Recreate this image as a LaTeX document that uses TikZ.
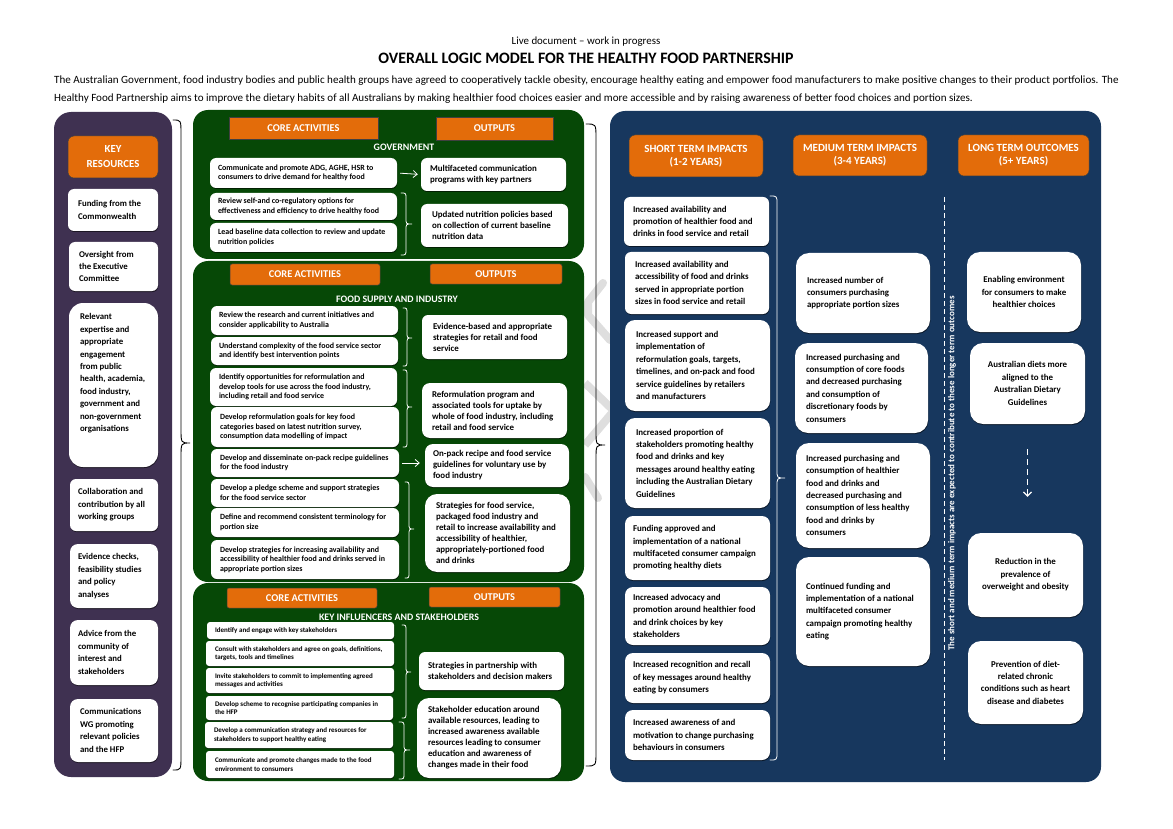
\documentclass[tikz,border=0pt]{standalone}
\usepackage{fontspec}
\setmainfont{Carlito}
\usetikzlibrary{shadows,arrows.meta}
\definecolor{purp}{HTML}{3F3151}
\definecolor{grn}{HTML}{064806}
\definecolor{blu}{HTML}{17375E}
\definecolor{org}{HTML}{E36C0A}
\definecolor{wm}{HTML}{DEDEDE}
\tikzset{
  x=1pt,y=-1pt,
  fs/.style 2 args={font=\bfseries\fontsize{#1}{#2}\selectfont},
  bshadow/.style={drop shadow={shadow xshift=.4pt,shadow yshift=-1pt,fill=black,opacity=.55}},
  wbox/.style={fill=white,rounded corners=6pt,inner sep=0pt,align=flush left,text=black,bshadow},
  wl/.style={wbox,fs={8.9}{12.4}},
  wg/.style={wbox,fs={7.95}{9.6}},
  wk/.style={wbox,fs={7}{8.5}},
  wo/.style={wbox,fs={8.9}{11}},
  wc/.style={align=flush center},
  orangebox/.style={fill=org,draw=black!75,line width=.5pt,rounded corners=2pt,inner sep=0pt,text=white,align=flush center,fs={10.4}{12}},
  bighead/.style={orangebox,rounded corners=6pt,fs={11}{13}},
  panel/.style={rounded corners=15pt},
  sechead/.style={text=white,fs={9.9}{11},inner sep=0pt},
  wbrace/.style={white,line width=.8pt,line cap=round},
  bbrace/.style={black,line width=.9pt,line cap=round},
}
\newcommand\bx[8][]{%
  \pgfmathsetmacro\bw{#5-#3}\pgfmathsetmacro\bh{#6-#4}%
  \pgfmathsetmacro\cxx{(#3+#5)/2}\pgfmathsetmacro\cyy{(#4+#6)/2}%
  \node[minimum width=\bw pt,minimum height=\bh pt,text width=\bw pt,#1] (#2) at (\cxx,\cyy) {\advance\leftskip #7pt\relax #8\par};%
}
% curly brace: style, x start, x spine, x tip, y top, y tip, y bottom, radius
\newcommand\cbr[8]{%
  \pgfmathsetmacro\ya{#5+#8}\pgfmathsetmacro\yb{#6-#8}\pgfmathsetmacro\yc{#6+#8}\pgfmathsetmacro\yd{#7-#8}%
  \draw[#1] (#2,#5) .. controls (#3,#5) and (#3,#5) .. (#3,\ya) -- (#3,\yb)
    .. controls (#3,#6) and (#3,#6) .. (#4,#6) .. controls (#3,#6) and (#3,#6) .. (#3,\yc) -- (#3,\yd)
    .. controls (#3,#7) and (#3,#7) .. (#2,#7);%
}
\begin{document}
\begin{tikzpicture}
\useasboundingbox (0,0) rectangle (1173,829);
\fill[white] (0,0) rectangle (1173,829);
% watermark strokes
\draw[wm,line width=8pt,line cap=round,line join=round] (603,283) -- (588,302) -- (588,315) -- (610,340);
\draw[wm,line width=8pt] (585,383) -- (612,409);
\draw[wm,line width=8pt] (612,413) -- (585,445);
\draw[wm,line width=8pt,line cap=round] (585,477) -- (598,498);
% header text
\node[inner sep=0pt,font=\fontsize{10.9}{12}\selectfont] (live) at (586,42) {Live document – work in progress};
\node[inner sep=0pt,font=\bfseries\fontsize{15.9}{17}\selectfont] (title) at (586,58) {OVERALL LOGIC MODEL FOR THE HEALTHY FOOD PARTNERSHIP};
\node[inner sep=0pt,anchor=west,font=\fontsize{11.08}{12}\selectfont] (para1) at (54,81) {The Australian Government, food industry bodies and public health groups have agreed to cooperatively tackle obesity, encourage healthy eating and empower food manufacturers to make positive changes to their product portfolios. The};
\node[inner sep=0pt,anchor=west,font=\fontsize{11.08}{12}\selectfont] (para2) at (54,99) {Healthy Food Partnership aims to improve the dietary habits of all Australians by making healthier food choices easier and more accessible and by raising awareness of better food choices and portion sizes.};
% panels
\fill[purp,panel,rounded corners=17pt] (54,112) rectangle (172,777);
\fill[grn,panel] (193,110) rectangle (584,259);
\fill[grn,panel] (193,261) rectangle (584,582);
\fill[grn,panel] (193,583) rectangle (584,781);
\fill[blu,panel] (610,111) rectangle (1101,782);
% key resources
\bx[orangebox,rounded corners=6pt,fs={10.8}{15}]{kr}{68}{136}{158}{178}{0}{KEY\\RESOURCES}
\bx[wl,fs={8.8}{12.2}]{k1}{68}{189}{158}{231}{10}{Funding from the\\Commonwealth}
\bx[wl,fs={8.8}{12.4}]{k2}{69}{242}{158}{291}{10}{Oversight from\\the Executive\\Committee}
\bx[wl,fs={8.8}{12.4},rounded corners=14pt]{k3}{69}{303}{158}{467}{11}{Relevant\\expertise and\\appropriate\\engagement\\from public\\health, academia,\\food industry,\\government and\\non-government\\organisations\\\mbox{}\\\mbox{}}
\bx[wl,fs={8.8}{12.6}]{k4}{70}{479}{158}{531}{8}{Collaboration and\\contribution by all\\working groups}
\bx[wl,fs={8.8}{12.6},rounded corners=8pt]{k5}{70}{544}{158}{608}{8}{Evidence checks,\\feasibility studies\\and policy\\analyses}
\bx[wl,fs={8.8}{12.6},rounded corners=8pt]{k6}{70}{620}{158}{685}{8}{Advice from the\\community of\\interest and\\stakeholders}
\bx[wl,fs={8.8}{12.6},rounded corners=8pt]{k7}{70}{699}{158}{762}{10}{Communications\\WG promoting\\relevant policies\\and the HFP}
\cbr{bbrace}{173}{181}{190}{120}{443}{770}{14}
% government
\bx[orangebox,rounded corners=0pt]{g1c}{229}{117}{378}{139}{0}{CORE ACTIVITIES}
\bx[orangebox,rounded corners=0pt]{g1o}{436}{117}{553}{140}{0}{OUTPUTS}
\node[sechead] (g1h) at (404,147) {GOVERNMENT};
\bx[wg]{g1a}{210}{158}{397}{188}{8}{Communicate and promote ADG, AGHE, HSR to\\consumers to drive demand for healthy food}
\bx[wg]{g1b}{210}{193}{397}{220}{8}{Review self-and co-regulatory options for\\effectiveness and efficiency to drive healthy food}
\bx[wg]{g1d}{210}{223}{397}{252}{8}{Lead baseline data collection to review and update\\nutrition policies}
\bx[wo]{g1p}{421}{158}{566}{191}{9}{Multifaceted communication\\programs with key partners}
\bx[wo]{g1q}{421}{204}{568}{247}{11}{Updated nutrition policies based\\on collection of current baseline\\nutrition data}
\draw[white,line width=.8pt,-{Straight Barb[length=4pt,width=7pt]},shorten <=3pt,shorten >=3pt] (g1a.east) -- (g1p.west);
\cbr{wbrace}{401}{406}{412}{193}{224}{255}{6}
% food supply
\bx[orangebox]{g2c}{230}{264}{380}{285}{0}{CORE ACTIVITIES}
\bx[orangebox]{g2o}{430}{264}{562}{284}{0}{OUTPUTS}
\node[sechead] (g2h) at (397,299) {FOOD SUPPLY AND INDUSTRY};
\bx[wg]{f1}{211}{306}{398}{335}{8}{Review the research and current initiatives and\\consider applicability to Australia}
\bx[wg]{f2}{211}{337}{398}{365}{8}{Understand complexity of the food service sector\\and identify best intervention points}
\bx[wg]{f3}{210}{368}{397}{406}{9}{Identify opportunities for reformulation and\\develop tools for use across the food industry,\\including retail and food service}
\bx[wg]{f4}{211}{407}{399}{447}{9}{Develop reformulation goals for key food\\categories based on latest nutrition survey,\\consumption data modelling of impact}
\bx[wg]{f5}{211}{449}{399}{477}{9}{Develop and disseminate on-pack recipe guidelines\\for the food industry}
\bx[wg]{f6}{211}{479}{399}{507}{9}{Develop a pledge scheme and support strategies\\for the food service sector}
\bx[wg]{f7}{211}{508}{399}{537}{9}{Define and recommend consistent terminology for\\portion size}
\bx[wg]{f8}{211}{540}{399}{579}{9}{Develop strategies for increasing availability and\\accessibility of healthier food and drinks served in\\appropriate portion sizes}
\bx[wo]{fa}{422}{315}{567}{359}{11}{Evidence-based and appropriate\\strategies for retail and food\\service}
\bx[wo,rounded corners=8pt]{fb}{422}{383}{567}{438}{10}{Reformulation program and\\associated tools for uptake by\\whole of food industry, including\\retail and food service}
\bx[wo,rounded corners=8pt]{fc}{425}{444}{569}{487}{8}{On-pack recipe and food service\\guidelines for voluntary use by\\food industry}
\bx[wo,rounded corners=12pt]{fd}{425}{494}{570}{572}{11}{Strategies for food service,\\packaged food industry and\\retail to increase availability and\\accessibility of healthier,\\appropriately-portioned food\\and drinks}
\draw[white,line width=.8pt,-{Straight Barb[length=4pt,width=7pt]},shorten <=3pt,shorten >=5pt] (f5.east) -- (f5.east -| fc.west);
\cbr{wbrace}{403}{407}{412}{308}{338}{366}{6}
\cbr{wbrace}{403}{407}{412}{370}{407}{447}{6}
\cbr{wbrace}{405}{409}{414}{482}{529}{578}{6}
% stakeholders
\bx[orangebox]{g3c}{227}{588}{377}{608}{0}{CORE ACTIVITIES}
\bx[orangebox]{g3o}{429}{587}{560}{607}{0}{OUTPUTS}
\node[sechead] (g3h) at (399,617) {KEY INFLUENCERS AND STAKEHOLDERS};
\bx[wk,rounded corners=3pt]{s1}{207}{622}{394}{639}{8}{Identify and engage with key stakeholders}
\bx[wk,rounded corners=3pt]{s2}{206}{641}{394}{666}{9}{Consult with stakeholders and agree on goals, definitions,\\targets, tools and timelines}
\bx[wk,rounded corners=3pt]{s3}{206}{668}{394}{693}{9}{Invite stakeholders to commit to implementing agreed\\messages and activities}
\bx[wk,rounded corners=3pt]{s4}{206}{696}{393}{720}{9}{Develop scheme to recognise participating companies in\\the HFP}
\bx[wk,rounded corners=3pt]{s5}{205}{722}{393}{748}{9}{Develop a communication strategy and resources for\\stakeholders to support healthy eating}
\bx[wk,rounded corners=3pt]{s6}{206}{751}{394}{778}{9}{Communicate and promote changes made to the food\\environment to consumers}
\bx[wo]{sa}{419}{652}{564}{690}{9}{Strategies in partnership with\\stakeholders and decision makers}
\bx[wo,rounded corners=12pt]{sb}{417}{698}{561}{778}{11}{Stakeholder education around\\available resources, leading to\\increased awareness available\\resources leading to consumer\\education and awareness of\\changes made in their food}
\cbr{wbrace}{402}{406}{411}{625}{672}{718}{6}
\cbr{wbrace}{399}{404}{410}{722}{750}{779}{6}
\cbr{bbrace}{586}{596}{605}{124}{445}{766}{14}
% impacts headers
\bx[bighead]{h1}{629}{135}{763}{177}{0}{SHORT TERM IMPACTS\\(1-2 YEARS)}
\bx[bighead]{h2}{793}{135}{927}{176}{0}{MEDIUM TERM IMPACTS\\(3-4 YEARS)}
\bx[bighead]{h3}{958}{135}{1089}{176}{0}{LONG TERM OUTCOMES\\(5+ YEARS)}
% short
\bx[wl]{i1}{624}{197}{769}{246}{9}{Increased availability and\\promotion of healthier food and\\drinks in food service and retail}
\bx[wl]{i2}{625}{252}{769}{314}{10}{Increased availability and\\accessibility of food and drinks\\served in appropriate portion\\sizes in food service and retail}
\bx[wl,rounded corners=10pt]{i3}{625}{320}{770}{411}{11}{Increased support and\\implementation of\\reformulation goals, targets,\\timelines, and on-pack and food\\service guidelines by retailers\\and manufacturers}
\bx[wl,rounded corners=10pt]{i4}{625}{418}{770}{508}{11}{Increased proportion of\\stakeholders promoting healthy\\food and drinks and key\\messages around healthy eating\\including the Australian Dietary\\Guidelines}
\bx[wl,rounded corners=8pt]{i5}{625}{516}{770}{580}{8}{Funding approved and\\implementation of a national\\multifaceted consumer campaign\\promoting healthy diets}
\bx[wl,rounded corners=8pt]{i6}{625}{587}{770}{645}{8}{Increased advocacy and\\promotion around healthier food\\and drink choices by key\\stakeholders}
\bx[wl,rounded corners=8pt]{i7}{625}{653}{770}{703}{8}{Increased recognition and recall\\of key messages around healthy\\eating by consumers}
\bx[wl,rounded corners=8pt]{i8}{625}{710}{770}{760}{8}{Increased awareness of and\\motivation to change purchasing\\behaviours in consumers}
\cbr{wbrace}{770}{777}{785}{196}{478}{760}{8}
% medium
\bx[wl,rounded corners=13pt]{m1}{796}{253}{930}{333}{11}{Increased number of\\consumers purchasing\\appropriate portion sizes}
\bx[wl,rounded corners=13pt]{m2}{795}{343}{928}{433}{11}{Increased purchasing and\\consumption of core foods\\and decreased purchasing\\and consumption of\\discretionary foods by\\consumers}
\bx[wl,rounded corners=13pt]{m3}{796}{443}{930}{548}{10}{Increased purchasing and\\consumption of healthier\\food and drinks and\\decreased purchasing and\\consumption of less healthy\\food and drinks by\\consumers}
\bx[wl,rounded corners=13pt]{m4}{796}{557}{930}{666}{10}{Continued funding and\\implementation of a national\\multifaceted consumer\\campaign promoting healthy\\eating}
% divider
\coordinate (dt) at (944,197);
\coordinate (db) at (944,760);
\draw[white,line width=.8pt,dash pattern=on 5pt off 3pt] (dt) -- (db);
\node[rotate=90,text=white,inner sep=0pt,fs={9}{10}] (dv) at (952,473.5) {The short and medium term impacts are expected to contribute to these longer term outcomes};
% long
\bx[wl,wc,rounded corners=13pt]{l1}{967}{252}{1081}{332}{0}{Enabling environment\\for consumers to make\\healthier choices}
\bx[wl,wc,rounded corners=13pt]{l2}{970}{343}{1085}{424}{0}{Australian diets more\\aligned to the\\Australian Dietary\\Guidelines}
\bx[wl,wc,rounded corners=13pt]{l3}{968}{533}{1083}{617}{0}{Reduction in the\\prevalence of\\overweight and obesity}
\bx[wl,wc,rounded corners=13pt]{l4}{968}{641}{1083}{724}{0}{Prevention of diet-\\related chronic\\conditions such as heart\\disease and diabetes}
\draw[white,line width=.9pt,dash pattern=on 6pt off 4pt,-{Straight Barb[length=4pt,width=8pt,line width=1.2pt]},shorten <=25pt,shorten >=36pt] (l2.south) -- (l2.south |- l3.north);
\end{tikzpicture}
\end{document}
